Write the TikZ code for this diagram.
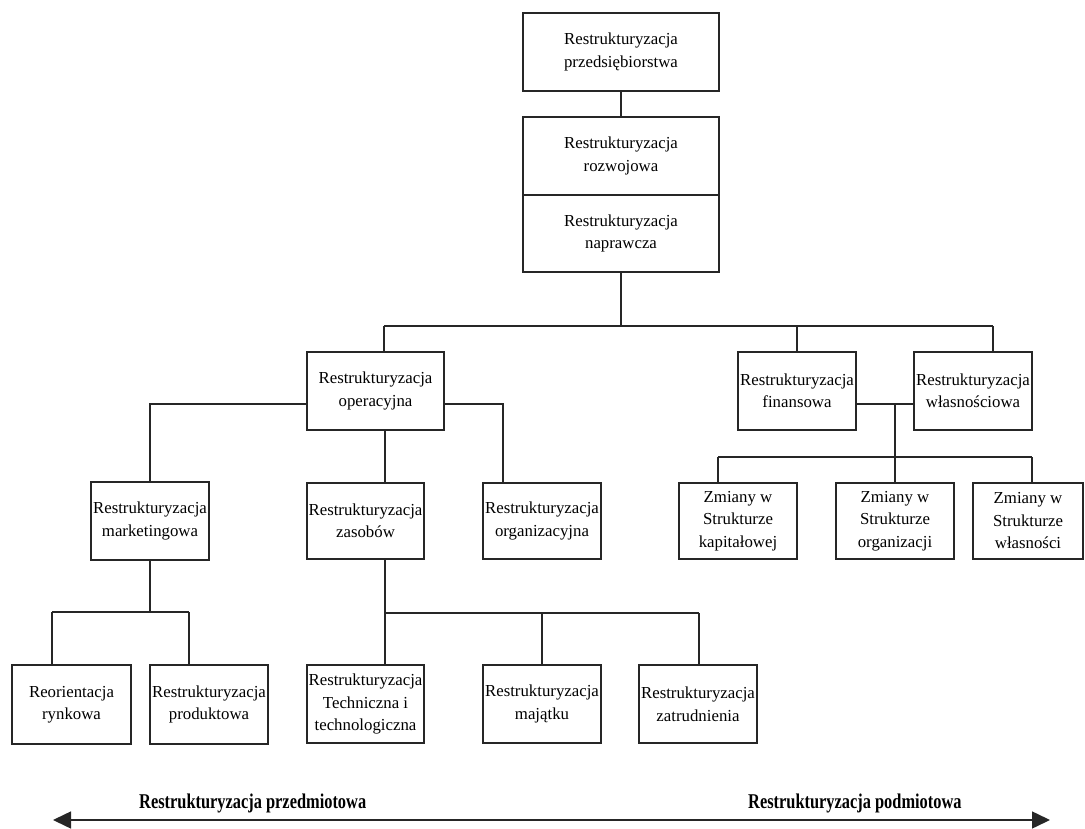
\documentclass[tikz,border=0pt]{standalone}
\usepackage{fontspec}
\setmainfont{Liberation Serif}
\newfontfamily\condb{Liberation Serif}[FakeStretch=0.78]
\usetikzlibrary{arrows.meta}
\tikzset{
  box/.style={draw=black!85, line width=1.2pt, inner sep=0pt, align=center,
    font=\fontsize{16.8}{22.5}\selectfont, fill=white},
  conn/.style={draw=black!85, line width=1.2pt},
  lbl/.style={font=\condb\bfseries\fontsize{21}{24}\selectfont, inner sep=0pt, anchor=base west}
}
\begin{document}
\begin{tikzpicture}[x=1pt,y=-1pt]
\useasboundingbox (0,0) rectangle (1085,829);
% nodes
\node[box, minimum width=196pt, minimum height=78pt] (ent) at (621,52) {Restrukturyzacja\\przedsiębiorstwa};
\node[box, minimum width=196pt, minimum height=78pt] (roz) at (621,156) {Restrukturyzacja\\rozwojowa};
\node[box, minimum width=196pt, minimum height=77pt] (nap) at (621,233.5) {Restrukturyzacja\\naprawcza};
\node[box, minimum width=137pt, minimum height=78pt] (op) at (375.5,391) {Restrukturyzacja\\operacyjna};
\node[box, minimum width=118pt, minimum height=78pt] (fin) at (797,391) {Restrukturyzacja\\finansowa};
\node[box, minimum width=118pt, minimum height=78pt] (wl) at (973,391) {Restrukturyzacja\\własnościowa};
\node[box, minimum width=118pt, minimum height=78pt] (mar) at (150,521) {Restrukturyzacja\\marketingowa};
\node[box, minimum width=117pt, minimum height=76pt] (zas) at (365.5,521) {Restrukturyzacja\\zasobów};
\node[box, minimum width=118pt, minimum height=76pt] (org) at (542,521) {Restrukturyzacja\\organizacyjna};
\node[box, minimum width=118pt, minimum height=76pt] (kap) at (738,521) {Zmiany w\\Strukturze\\kapitałowej};
\node[box, minimum width=118pt, minimum height=76pt] (sorg) at (895,521) {Zmiany w\\Strukturze\\organizacji};
\node[box, minimum width=110pt, minimum height=76pt] (swl) at (1028,521) {Zmiany w\\Strukturze\\własności};
\node[box, minimum width=119pt, minimum height=79pt] (reo) at (71.5,704.5) {Reorientacja\\rynkowa};
\node[box, minimum width=118pt, minimum height=79pt] (prod) at (209,704.5) {Restrukturyzacja\\produktowa};
\node[box, minimum width=117pt, minimum height=78pt] (tech) at (365.5,704) {Restrukturyzacja\\Techniczna i\\technologiczna};
\node[box, minimum width=118pt, minimum height=78pt] (maj) at (542,704) {Restrukturyzacja\\majątku};
\node[box, minimum width=118pt, minimum height=78pt] (zat) at (698,704) {Restrukturyzacja\\zatrudnienia};
% junction coordinates
\coordinate (hL) at (384,326);
\coordinate (hR) at (993,326);
\coordinate (mL) at (52,612);
\coordinate (mR) at (189,612);
\coordinate (zL) at (385,613);
\coordinate (zR) at (699,613);
\coordinate (fj) at (895,404);
\coordinate (sL) at (718,457);
\coordinate (sR) at (1032,457);
% connectors
\draw[conn] (ent.south) -- (roz.north);
\draw[conn] (nap.south) -- (nap.south |- hL);
\draw[conn] (hL) -- (hR);
\draw[conn] (hL) -- (hL |- op.north);
\draw[conn] (fin.north |- hL) -- (fin.north);
\draw[conn] (hR) -- (hR |- wl.north);
\draw[conn] ([yshift=-13pt]op.west) -| (mar.north);
\draw[conn] ([yshift=-13pt]op.east) -| ([xshift=-39pt]org.north);
\draw[conn] (zL |- op.south) -- (zL |- zas.north);
\draw[conn] (mar.south) -- (mar.south |- mL);
\draw[conn] (mL) -- (mR);
\draw[conn] (mL) -- (mL |- reo.north);
\draw[conn] (mR) -- (mR |- prod.north);
\draw[conn] (zL |- zas.south) -- (zL) -- (zR);
\draw[conn] (zL) -- (zL |- tech.north);
\draw[conn] (maj.north |- zL) -- (maj.north);
\draw[conn] (zR) -- (zR |- zat.north);
\draw[conn] ([yshift=-13pt]fin.east) -- ([yshift=-13pt]wl.west);
\draw[conn] (fj) -- (fj |- sL);
\draw[conn] (sL) -- (sR);
\draw[conn] (sL) -- (sL |- kap.north);
\draw[conn] (sorg.north |- sL) -- (sorg.north);
\draw[conn] (sR) -- (sR |- swl.north);
% bottom axis
\coordinate (al) at (53,820);
\coordinate (ar) at (1050,820);
\draw[conn, line width=1.5pt, {Triangle[length=18pt,width=17pt]}-{Triangle[length=18pt,width=17pt]}] (al) -- (ar);
\node[lbl] (lp) at (139,808) {Restrukturyzacja przedmiotowa};
\node[lbl] (rp) at (748,808) {Restrukturyzacja podmiotowa};
\end{tikzpicture}
\end{document}
